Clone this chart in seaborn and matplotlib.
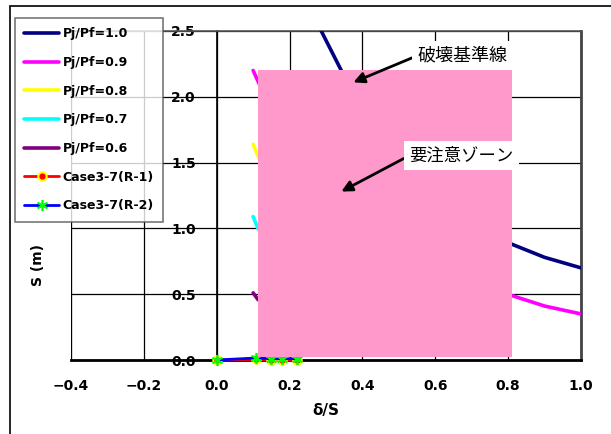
import numpy as np
import pandas as pd
import matplotlib
matplotlib.use('Agg')
import matplotlib.pyplot as plt
from matplotlib.patches import Rectangle
from matplotlib.ticker import MultipleLocator
import seaborn as sns

# curves Pj/Pf (hidden parts estimated)
x_10 = [0.25, 0.287, 0.342, 0.45, 0.6, 0.7, 0.81, 0.9, 1.0]
y_10 = [2.72, 2.50, 2.20, 1.65, 1.22, 1.03, 0.88, 0.78, 0.70]
x_09 = [0.10, 0.113, 0.2, 0.35, 0.5, 0.65, 0.81, 0.9, 1.0]
y_09 = [2.20, 2.12, 1.60, 1.10, 0.82, 0.63, 0.49, 0.41, 0.35]
x_08 = [0.10, 0.113, 0.2, 0.35, 0.5, 0.65, 0.805]
y_08 = [1.64, 1.55, 1.10, 0.75, 0.55, 0.42, 0.33]
x_07 = [0.10, 0.113, 0.2, 0.35, 0.5, 0.6]
y_07 = [1.09, 1.00, 0.70, 0.45, 0.30, 0.22]
x_06 = [0.10, 0.113, 0.2, 0.3, 0.4]
y_06 = [0.51, 0.46, 0.30, 0.18, 0.10]

# measured cases
x_r1 = [0.0, 0.107, 0.15, 0.18, 0.22]
y_r1 = [0.0, 0.005, 0.0, 0.0, 0.0]
x_r2 = [0.0, 0.107, 0.15, 0.18, 0.22]
y_r2 = [0.0, 0.015, 0.01, 0.01, 0.01]

labels = ['Pj/Pf=1.0', 'Pj/Pf=0.9', 'Pj/Pf=0.8', 'Pj/Pf=0.7', 'Pj/Pf=0.6',
          'Case3-7(R-1)', 'Case3-7(R-2)']
colors = ['#000080', '#FF00FF', '#FFFF00', '#00FFFF', '#800080']

# caution zone
zone_x = [0.113, 0.81]
zone_y = [0.022, 2.2]

sns.set_style('white')
plt.rcParams['font.family'] = ['DejaVu Sans', 'Noto Sans CJK JP']
plt.rcParams['text.color'] = 'black'
plt.rcParams['axes.labelcolor'] = 'black'
plt.rcParams['xtick.color'] = 'black'
plt.rcParams['ytick.color'] = 'black'

fig = plt.figure(figsize=(6.11, 4.34), dpi=100)
ax = fig.add_axes([71/611, 1-360/434, 510/611, 329/434])

curves = [(x_10, y_10), (x_09, y_09), (x_08, y_08), (x_07, y_07), (x_06, y_06)]
for (xs, ys), lab, c in zip(curves, labels[:5], colors):
    sns.lineplot(x=xs, y=ys, ax=ax, color=c, lw=2.6, label=lab, zorder=3)

sns.lineplot(x=x_r1, y=y_r1, ax=ax, color='red', lw=2, marker='o', ms=6,
             mfc='red', mec='yellow', mew=1.5, label=labels[5], zorder=4, clip_on=False)
sns.lineplot(x=x_r2, y=y_r2, ax=ax, color='blue', lw=2, marker=(6, 2, 0), ms=8,
             mec='#00FF00', mew=1.2, label=labels[6], zorder=4, clip_on=False)

ax.add_patch(Rectangle((zone_x[0], zone_y[0]), zone_x[1]-zone_x[0], zone_y[1]-zone_y[0],
                       fc='#FF99CC', ec='none', zorder=5))

ax.set_xlim(-0.4, 1.0)
ax.set_ylim(0, 2.5)
ax.xaxis.set_major_locator(MultipleLocator(0.2))
ax.xaxis.set_minor_locator(MultipleLocator(0.1))
ax.yaxis.set_major_locator(MultipleLocator(0.5))
ax.yaxis.set_minor_locator(MultipleLocator(0.1))
ax.set_xticklabels([f'{v:.1f}'.replace('-', '\u2212') for v in ax.get_xticks()])
ax.grid(True, which='major', color='black', lw=0.9, zorder=1)
ax.set_axisbelow(True)

ax.spines['left'].set_position(('data', 0))
ax.spines['left'].set_color('black')
ax.spines['left'].set_linewidth(1.2)
ax.spines['bottom'].set_color('black')
ax.spines['bottom'].set_linewidth(2)
ax.spines['top'].set_color('#555555')
ax.spines['top'].set_linewidth(1.2)
ax.spines['right'].set_color('#444444')
ax.spines['right'].set_linewidth(2)
ax.axvline(-0.4, color='black', lw=1.5, zorder=1)

ax.tick_params(axis='both', which='both', direction='in', colors='black')
ax.tick_params(axis='y', which='major', length=0, pad=15, labelsize=10)
ax.tick_params(axis='y', which='minor', length=4, width=0.8)
ax.tick_params(axis='x', which='major', length=0, pad=14, labelsize=10)
ax.tick_params(axis='x', which='minor', length=4, width=0.8)
for t in ax.get_xticklabels() + ax.get_yticklabels():
    t.set_fontweight('bold')

ax.set_xlabel('δ/S', fontsize=11, fontweight='bold', labelpad=7)
ax.set_ylabel('S (m)', fontsize=10, fontweight='bold')
ax.yaxis.set_label_coords(-0.051, 0.289)

jp = ['Noto Sans CJK JP', 'DejaVu Sans']
box = dict(fc='white', ec='none', pad=4)
arrow = dict(arrowstyle='-|>', color='black', lw=2, mutation_scale=16, relpos=(0, 0.5),
             shrinkA=0, shrinkB=0)
ax.annotate('破壊基準線', xy=(0.375, 2.11), xytext=(0.552, 2.314), fontsize=13, family=jp,
            ha='left', va='center', bbox=box, arrowprops=arrow, zorder=7)
ax.annotate('要注意ゾーン', xy=(0.342, 1.28), xytext=(0.529, 1.554), fontsize=12.5, family=jp,
            ha='left', va='center', bbox=box, arrowprops=arrow, zorder=7)

leg = ax.legend(loc='upper left', bbox_to_anchor=(15/611, 1-18/434),
                bbox_transform=fig.transFigure, frameon=True, fancybox=False,
                edgecolor='#555555', borderaxespad=0, handlelength=2.8,
                handletextpad=0.25, labelspacing=1.25, borderpad=0.75,
                prop={'weight': 'bold', 'size': 9})
leg.get_frame().set_linewidth(1.2)
leg.set_zorder(10)
for t in leg.get_texts():
    t.set_color('black')

fig.patches.append(Rectangle((10/611, -0.1), 1.0, 1.1-6/434, transform=fig.transFigure,
                             fill=False, ec='black', lw=1.2, zorder=0))

fig.savefig('out.png', dpi=100)
